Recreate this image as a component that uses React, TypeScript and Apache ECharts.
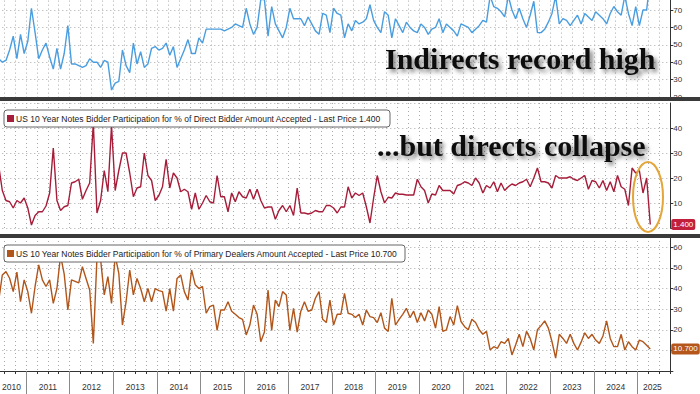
import React, { useEffect, useRef } from "react";
import * as echarts from "echarts";

// Monthly 10-year note auctions, first point May 2010
const START_YEAR = 2010;
const START_MONTH = 5;

const indirects = [
  42, 40, 41, 47, 55, 42, 56, 45, 52, 71,
  57, 42, 47, 51, 43, 36, 48, 36, 45, 61,
  39, 39, 38, 37, 38, 42, 40, 40, 37, 41,
  40, 24, 28, 29, 47, 38, 34, 51, 39, 46,
  37, 39, 48, 49, 47, 48, 51, 44, 49, 37,
  42, 47, 53, 45, 45, 54, 51, 59, 59, 59,
  59, 59, 58, 59, 60, 62, 61, 60, 71, 62,
  56, 60, 76, 76, 55, 72, 62, 58, 54, 60,
  71, 65, 65, 65, 61, 66, 62, 58, 56, 68,
  67, 57, 71, 68, 67, 54, 62, 58, 64, 62,
  63, 65, 73, 64, 60, 57, 69, 67, 54, 65,
  61, 57, 63, 60, 58, 57, 62, 60, 56, 59,
  60, 65, 57, 62, 60, 58, 55, 62, 61, 60,
  57, 59, 61, 64, 63, 78, 72, 71, 69, 66,
  78, 70, 65, 71, 65, 60, 67, 75, 57, 57,
  59, 63, 68, 78, 62, 65, 64, 61, 64, 67,
  62, 68, 66, 64, 69, 67, 65, 62, 68, 72,
  69, 67, 78, 68, 61, 72, 61, 70, 70, 87.9,
];

const directs = [
  25, 15, 11, 10.5, 8, 11, 10, 12, 8, 1.2,
  5, 6.5, 6.5, 8.8, 14, 32, 11, 7, 8.5, 9,
  18, 18.5, 19.5, 11.5, 15, 18, 42, 6, 11, 23,
  14.5, 41, 15, 23, 30, 30, 22, 12.5, 16, 16.5,
  30, 21, 19, 11, 13, 16.5, 27.5, 16, 22, 20,
  14.5, 15.5, 14.5, 7.5, 14, 7.5, 10, 13, 10.5, 10,
  21, 12.5, 12.5, 6.5, 14, 10.5, 14.5, 12.5, 12, 15.5,
  11.5, 15.5, 11, 8, 8.4, 8.4, 3.5, 7, 9, 6.5,
  9, 5, 16, 6, 6, 5.6, 6, 7, 6.5, 6.5,
  9, 9, 8, 6, 8.4, 8.4, 16.5, 12, 14, 13,
  14, 8.5, 2, 12, 21, 14.5, 10, 12.3, 12, 14,
  13.5, 13.5, 13.2, 13.2, 13.2, 19.5, 16.5, 15, 10, 13.6,
  13.2, 17, 15, 15, 15, 13.6, 17, 17.5, 18.5, 18,
  17, 20, 18, 14, 17, 16, 18.5, 14.5, 18, 15,
  16.5, 17.6, 17, 18, 18.5, 19.5, 16.5, 20, 24, 18.5,
  18.5, 18, 16, 21, 20, 20, 20, 20.5, 19.5, 19,
  20, 21, 15.5, 19, 18.5, 16, 19, 15, 18.5, 14.5,
  21, 16.5, 15.5, 9, 24, 22, 23, 14, 20, 1.4,
];

const dealers = [
  34, 46.6, 48.2, 45, 38.5, 48, 33.6, 44.2, 38.5, 28,
  41, 51.5, 44.2, 41, 44.2, 32.8, 40, 56, 47, 29.6,
  44.2, 43.5, 42.7, 50.6, 44.9, 39.3, 13.4, 55, 54, 36.9,
  45.8, 32.8, 56, 47.4, 22.3, 33.6, 49, 36.9, 44.9, 40,
  33.6, 40, 33.6, 40, 39, 38.5, 29, 40, 29, 44.9,
  46.6, 38.5, 34.4, 49, 41.8, 40, 41, 28, 31.2, 32,
  19.7, 29.6, 29.6, 33.6, 29, 27.5, 25.9, 25, 17.5, 22.3,
  32, 27.5, 14.2, 18.9, 39.3, 19.7, 34.4, 31.2, 38.5, 36.9,
  19.7, 30.4, 18.9, 29, 33.6, 29, 29.6, 35.3, 38.5, 25.1,
  23.5, 34.4, 22.3, 27.5, 27.5, 37.7, 28, 27.5, 25.9, 27.5,
  22.3, 29.6, 26.4, 25.9, 23.5, 28.3, 20.8, 19.2, 35.3, 22.3,
  25, 27.5, 30.4, 25.9, 29, 23.5, 28.3, 24.3, 29.6, 27.5,
  20.8, 31.2, 19.2, 20, 26.4, 22.3, 31.7, 24, 21.5, 20,
  25.1, 23.5, 20, 17.8, 19.2, 10.2, 11.8, 11, 14.2, 13.4,
  15.8, 7.8, 12.6, 17.8, 11.8, 19.2, 15.8, 10.2, 20, 22,
  24.3, 20.8, 14.2, 6.2, 17.8, 15.8, 13.4, 17.8, 13.4, 10.2,
  14, 18.5, 15.8, 17.8, 15, 13.4, 17, 24.3, 15.8, 11.8,
  11.8, 17.8, 10.2, 14.2, 11.8, 10.2, 15, 14.2, 12.5, 10.7,
];

const yearLabelValues = [
  2010.67, 2011.5, 2012.5, 2013.5, 2014.5, 2015.5, 2016.5, 2017.5,
  2018.5, 2019.5, 2020.5, 2021.5, 2022.5, 2023.5, 2024.5, 2025.34,
];
const yearBoundaries = [
  2011, 2012, 2013, 2014, 2015, 2016, 2017, 2018, 2019, 2020, 2021, 2022,
  2023, 2024, 2025,
];

const directTitle = "US 10 Year Notes Bidder Participation for % of Direct Bidder Amount Accepted - Last Price ";
const dealerTitle = "US 10 Year Notes Bidder Participation for % of Primary Dealers Amount Accepted - Last Price ";

const BLUE = "#4a9ee0";
const RED = "#a61d3a";
const BROWN = "#b1561b";

const monthPos = (i: number) => START_YEAR + (START_MONTH - 1 + i) / 12 + 1 / 24;
const toPairs = (vals: number[]) => vals.map((v, i) => [monthPos(i), v]);

const X_MIN = 2010;
const X_MAX = 2025.75;
const GRID_LEFT = -17.7;
const GRID_RIGHT = 29.7;
const FONT = "'Liberation Sans', Arial, sans-serif";
const SERIF = "'Liberation Serif', 'Times New Roman', serif";

const dotted = { type: [1, 3] as any, color: "#a8a8a8", width: 1 };

function baseX(gridIndex: number) {
  return {
    type: "value",
    gridIndex,
    min: X_MIN,
    max: X_MAX,
    interval: 0.25,
    axisLine: { show: false },
    axisTick: { show: false },
    axisLabel: { show: false },
    splitLine: { show: true, lineStyle: dotted },
  };
}

function baseY(gridIndex: number, min: number, max: number, hide: number[]) {
  return {
    type: "value",
    gridIndex,
    position: "right",
    min,
    max,
    interval: 10,
    axisLine: { show: true, lineStyle: { color: "#333", width: 1 } },
    axisTick: { show: true, length: 3, lineStyle: { color: "#333" } },
    axisLabel: {
      show: true,
      fontSize: 8,
      color: "#333",
      margin: 3,
      fontFamily: FONT,
      showMaxLabel: false,
      formatter: (v: number) => (hide.includes(v) ? "" : String(v)),
    },
    splitLine: { show: true, lineStyle: dotted },
  };
}

function tagLabel(text: string, bg: string) {
  return {
    show: true,
    formatter: () => text,
    distance: 21,
    color: "#fff",
    backgroundColor: bg,
    fontSize: 8,
    fontFamily: FONT,
    padding: [2, 2, 1, 2],
    borderRadius: 2,
  };
}

function legendBox(x: number, y: number, w: number, color: string, text: string) {
  return {
    type: "group",
    z: 100,
    children: [
      {
        type: "rect",
        z: 100,
        shape: { x, y, width: w, height: 17, r: 3 },
        style: { fill: "#fff", stroke: "#666", lineWidth: 1 },
      },
      {
        type: "rect",
        z: 101,
        shape: { x: x + 3, y: y + 5, width: 7, height: 7 },
        style: { fill: color },
      },
      {
        type: "text",
        z: 101,
        style: {
          text,
          x: x + 12,
          y: y + 9,
          fill: "#222",
          fontSize: 8.5,
          fontFamily: FONT,
          verticalAlign: "middle",
        },
      },
    ],
  };
}

function bigText(text: string, x: number, y: number) {
  return {
    type: "text",
    z: 110,
    style: {
      text,
      x,
      y,
      fill: "#111",
      fontSize: 30,
      fontWeight: "bold",
      fontFamily: SERIF,
      verticalAlign: "middle",
      textShadowColor: "rgba(0,0,0,0.5)",
      textShadowBlur: 4,
      textShadowOffsetX: 3,
      textShadowOffsetY: 3,
    },
  };
}

const gridBase = { left: GRID_LEFT, right: GRID_RIGHT, containLabel: false, outerBoundsMode: "none" };

export default function App() {
  const ref = useRef<HTMLDivElement>(null);

  useEffect(() => {
    if (!ref.current) return;
    const chart = echarts.init(ref.current, undefined, { renderer: "svg" });
    const lastDirect = directs[directs.length - 1].toFixed(3);
    const lastDealer = dealers[dealers.length - 1].toFixed(3);

    const option: any = {
      animation: false,
      backgroundColor: "#ffffff",
      textStyle: { fontFamily: FONT },
      grid: [
        { ...gridBase, top: -7.4, height: 104.4 },
        { ...gridBase, top: 103, height: 125 },
        { ...gridBase, top: 237, height: 134 },
      ],
      xAxis: [
        baseX(0),
        baseX(1),
        {
          ...baseX(2),
          position: "bottom",
          axisLine: { show: true, onZero: false, lineStyle: { color: "#333", width: 1 } },
          axisTick: { show: true, length: 3, lineStyle: { color: "#333" } },
          axisLabel: {
            show: true,
            customValues: yearLabelValues,
            formatter: (v: number) => String(Math.floor(v)),
            fontSize: 8.5,
            color: "#333",
            margin: 11,
            fontFamily: FONT,
          },
        },
        {
          type: "value",
          gridIndex: 2,
          min: X_MIN,
          max: X_MAX,
          position: "bottom",
          axisLine: { show: false },
          axisTick: {
            show: true,
            customValues: yearBoundaries,
            length: 23,
            lineStyle: { color: "#8a8a8a", width: 1 },
          },
          axisLabel: { show: false },
          splitLine: { show: false },
        },
      ],
      yAxis: [
        baseY(0, 20, 80, []),
        baseY(1, 0, 50, [0]),
        baseY(2, 0, 65, [0, 10]),
      ],
      series: [
        {
          type: "line",
          xAxisIndex: 0,
          yAxisIndex: 0,
          data: toPairs(indirects),
          showSymbol: false,
          symbol: "none",
          lineStyle: { color: BLUE, width: 1.4 },
          itemStyle: { color: BLUE },
        },
        {
          type: "line",
          xAxisIndex: 1,
          yAxisIndex: 1,
          data: toPairs(directs),
          showSymbol: false,
          symbol: "none",
          lineStyle: { color: RED, width: 1.4 },
          itemStyle: { color: RED },
          endLabel: tagLabel(lastDirect, "#c21f3d"),
        },
        {
          type: "line",
          xAxisIndex: 2,
          yAxisIndex: 2,
          data: toPairs(dealers),
          showSymbol: false,
          symbol: "none",
          lineStyle: { color: BROWN, width: 1.4 },
          itemStyle: { color: BROWN },
          endLabel: tagLabel(lastDealer, "#b5561b"),
        },
      ],
      graphic: [
        { type: "rect", z: 120, shape: { x: 0, y: 97, width: 700, height: 4 }, style: { fill: "#3a3a3a" } },
        { type: "rect", z: 120, shape: { x: 0, y: 234, width: 700, height: 4 }, style: { fill: "#3a3a3a" } },
        legendBox(4, 110, 386, RED, directTitle + lastDirect),
        legendBox(4, 245, 401, BROWN, dealerTitle + lastDealer),
        bigText("Indirects record high", 385, 58),
        bigText("...but directs collapse", 377, 145),
        {
          type: "ellipse",
          z: 115,
          shape: { cx: 648, cy: 197, rx: 15, ry: 35 },
          style: { fill: "none", stroke: "#e3a63a", lineWidth: 2 },
        },
      ],
    };

    chart.setOption(option);
    return () => chart.dispose();
  }, []);

  return (
    <div
      ref={ref}
      style={{ position: "absolute", left: 0, top: 0, width: 700, height: 394 }}
    />
  );
}
